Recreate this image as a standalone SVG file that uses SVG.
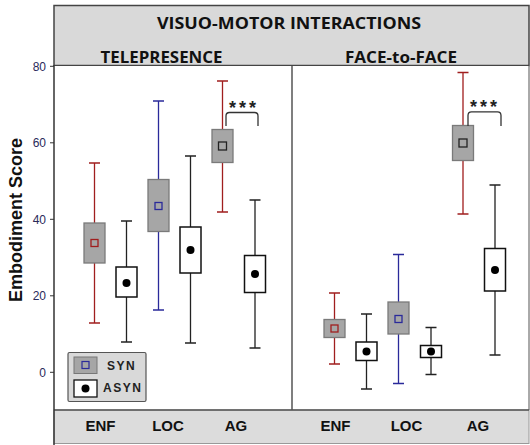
<svg xmlns="http://www.w3.org/2000/svg" width="530" height="445" viewBox="0 0 530 445">
<style>
.hdr{font-family:"Open Sans","Liberation Sans",sans-serif;font-weight:bold;font-size:16px;fill:#111;text-anchor:middle}
.cat{font-family:"Liberation Sans",Arial,sans-serif;font-weight:bold;font-size:15px;fill:#111;text-anchor:middle}
.tick{font-family:"Liberation Sans",Arial,sans-serif;font-size:12px;fill:#2a2a5a;text-anchor:end}
.ylab{font-family:"Liberation Sans",Arial,sans-serif;font-weight:bold;font-size:18px;fill:#111;text-anchor:middle}
.leg{font-family:"Liberation Sans",Arial,sans-serif;font-weight:bold;font-size:12px;fill:#222;letter-spacing:1.5px}
.star{font-family:"Liberation Sans",Arial,sans-serif;font-weight:bold;font-size:18px;fill:#222;letter-spacing:3px;text-anchor:middle}
.red{stroke:#a01e1e;stroke-width:1.3;fill:none}
.blue{stroke:#2a2a9a;stroke-width:1.3;fill:none}
.blk{stroke:#222;stroke-width:1.3;fill:none}
.sbox{fill:#a6a6a6;stroke:#7a7a7a;stroke-width:1.3}
.abox{fill:#fff;stroke:#111;stroke-width:1.5}
.dot{fill:#000}
.brk{stroke:#333;stroke-width:1.3;fill:none}
</style>
<!-- frame -->
<g id="frame">
<rect x="54" y="5.5" width="475" height="60" fill="#d9d9d9" stroke="#444" stroke-width="1.5"/>
<rect x="54" y="66" width="475" height="344" fill="#fff"/>
<rect x="54" y="410" width="475" height="33.5" fill="#dcdcdc" stroke="#999" stroke-width="1"/>
<line x1="54" y1="410" x2="529" y2="410" stroke="#555" stroke-width="1.5"/>
<line x1="54" y1="65" x2="54" y2="445" stroke="#333" stroke-width="1.5"/>
<line x1="292" y1="66" x2="292" y2="410" stroke="#555" stroke-width="1.5"/>
<line x1="529" y1="66" x2="529" y2="410" stroke="#555" stroke-width="1"/>
</g>
<g id="titles">
<text class="hdr" x="289" y="29" textLength="264" lengthAdjust="spacingAndGlyphs">VISUO-MOTOR  INTERACTIONS</text>
<text class="hdr" x="161.5" y="62.5" textLength="122" lengthAdjust="spacingAndGlyphs">TELEPRESENCE</text>
<text class="hdr" x="401" y="62.5" textLength="112" lengthAdjust="spacingAndGlyphs">FACE-to-FACE</text>
</g>
<g id="axis">
<g stroke="#333" stroke-width="1">
<line x1="50" y1="66.3" x2="54" y2="66.3"/>
<line x1="50" y1="142.8" x2="54" y2="142.8"/>
<line x1="50" y1="219.3" x2="54" y2="219.3"/>
<line x1="50" y1="295.8" x2="54" y2="295.8"/>
<line x1="50" y1="372.3" x2="54" y2="372.3"/>
</g>
<text class="tick" x="46" y="70.5">80</text>
<text class="tick" x="46" y="147">60</text>
<text class="tick" x="46" y="223.5">40</text>
<text class="tick" x="46" y="300">20</text>
<text class="tick" x="46" y="376.5">0</text>
<text class="ylab" transform="translate(21.5,220) rotate(-90)">Embodiment Score</text>
</g>
<g id="categories">
<text class="cat" x="100.5" y="430.5">ENF</text>
<text class="cat" x="168" y="430.5">LOC</text>
<text class="cat" x="236" y="430.5">AG</text>
<text class="cat" x="335.5" y="430.5">ENF</text>
<text class="cat" x="406.5" y="430.5">LOC</text>
<text class="cat" x="478" y="430.5">AG</text>
</g>
<!-- Telepresence -->
<g id="tp-enf-syn">
<path class="red" d="M94.5,163 V323 M89,163 H100 M89,323 H100"/>
<rect class="sbox" x="84" y="223" width="21" height="40"/>
<rect class="red" x="91" y="239.5" width="7" height="7"/>
</g>
<g id="tp-enf-asyn">
<path class="blk" d="M126.5,221 V342 M121,221 H132 M121,342 H132"/>
<rect class="abox" x="116" y="267" width="21" height="30"/>
<circle class="dot" cx="126.5" cy="283" r="4"/>
</g>
<g id="tp-loc-syn">
<path class="blue" d="M158.5,101 V310 M153,101 H164 M153,310 H164"/>
<rect class="sbox" x="148" y="179.5" width="21" height="52"/>
<rect class="blue" x="155" y="202.5" width="7" height="7"/>
</g>
<g id="tp-loc-asyn">
<path class="blk" d="M190.5,156 V343 M185,156 H196 M185,343 H196"/>
<rect class="abox" x="180" y="227" width="21" height="46"/>
<circle class="dot" cx="190.5" cy="250" r="4"/>
</g>
<g id="tp-ag-syn">
<path class="red" d="M222.5,81 V212 M217,81 H228 M217,212 H228"/>
<rect class="sbox" x="212" y="129.5" width="21" height="33"/>
<rect class="blk" x="218.5" y="142" width="8" height="8"/>
</g>
<g id="tp-ag-asyn">
<path class="blk" d="M255,200 V348 M249.5,200 H260.5 M249.5,348 H260.5"/>
<rect class="abox" x="244.5" y="255.5" width="21" height="37"/>
<circle class="dot" cx="255" cy="274" r="4"/>
</g>
<!-- Face-to-face -->
<g id="ff-enf-syn">
<path class="red" d="M334.5,293 V364 M329,293 H340 M329,364 H340"/>
<rect class="sbox" x="324" y="319.5" width="21" height="18"/>
<rect class="red" x="331" y="325" width="7" height="7"/>
</g>
<g id="ff-enf-asyn">
<path class="blk" d="M366.5,314 V389 M361,314 H372 M361,389 H372"/>
<rect class="abox" x="356" y="342" width="21" height="18.5"/>
<circle class="dot" cx="366.5" cy="351.5" r="4"/>
</g>
<g id="ff-loc-syn">
<path class="blue" d="M398.5,254.5 V383.5 M393,254.5 H404 M393,383.5 H404"/>
<rect class="sbox" x="388" y="302" width="21" height="32"/>
<rect class="blue" x="395" y="315.5" width="7" height="7"/>
</g>
<g id="ff-loc-asyn">
<path class="blk" d="M431,327.5 V374.5 M425.5,327.5 H436.5 M425.5,374.5 H436.5"/>
<rect class="abox" x="420.5" y="345.5" width="21" height="12"/>
<circle class="dot" cx="431" cy="351.5" r="4"/>
</g>
<g id="ff-ag-syn">
<path class="red" d="M463,72.5 V214 M457.5,72.5 H468.5 M457.5,214 H468.5"/>
<rect class="sbox" x="452.5" y="125.5" width="21" height="35"/>
<rect class="blk" x="459" y="139" width="8" height="8"/>
</g>
<g id="ff-ag-asyn">
<path class="blk" d="M495,185 V355 M489.5,185 H500.5 M489.5,355 H500.5"/>
<rect class="abox" x="484.5" y="248.5" width="21" height="42.5"/>
<circle class="dot" cx="495" cy="270" r="4"/>
</g>
<!-- legend -->
<g id="legend">
<rect x="68" y="352.5" width="78" height="49" rx="1.5" fill="#d9d9d9" stroke="#555" stroke-width="1.2"/>
<rect x="74" y="357" width="23" height="16.5" fill="#a6a6a6" stroke="#777" stroke-width="1"/>
<rect x="82" y="361.5" width="7" height="7" fill="none" stroke="#2a2a9a" stroke-width="1.2"/>
<rect x="74" y="380" width="23" height="17" fill="#fff" stroke="#111" stroke-width="1.3"/>
<circle cx="85.5" cy="388.5" r="4" fill="#000"/>
<text class="leg" x="107" y="370">SYN</text>
<text class="leg" x="103" y="391.5">ASYN</text>
</g>
<!-- connectors -->
<g id="connectors">
<path class="brk" d="M226,126 V116 Q226,112.5 229.5,112.5 H254.5 Q258,112.5 258,116 V126"/>
<path class="brk" d="M468,126 V115.5 Q468,111.8 471.5,111.8 H497.5 Q501,111.8 501,115.5 V126"/>
<text class="star" x="244" y="114">***</text>
<text class="star" x="485" y="113">***</text>
</g>
</svg>
